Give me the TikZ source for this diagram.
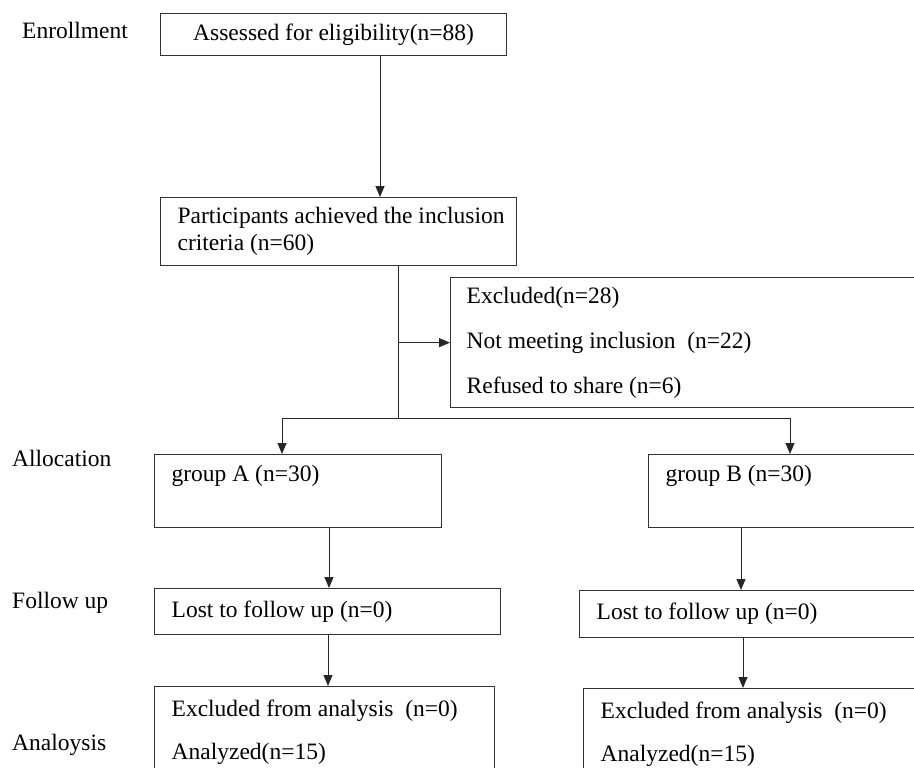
\documentclass[tikz,border=0pt]{standalone}
\usepackage{fontspec}
\setmainfont{Liberation Serif}
\usetikzlibrary{arrows.meta}

\newcommand{\flowfont}[1]{\fontsize{23.5}{#1}\selectfont}

\begin{document}
\begin{tikzpicture}[x=1pt, y=-1pt,
    every node/.style={font=\flowfont{27}},
    box/.style={draw=black!80, line width=1.3pt, anchor=north west, inner xsep=17pt, inner ysep=0pt, align=left,
        execute at begin node={\spaceskip=0.25em\xspaceskip=0.25em\relax}},
    stage/.style={anchor=base west, inner sep=0pt},
    arr/.style={-{Triangle[length=11pt,width=9pt]}, line width=1pt, black!85},
    link/.style={line width=1pt, black!85}]

    % Cadre de la figure
    \useasboundingbox (0,0) rectangle (914,768);
    \clip (0,0) rectangle (914,768);

    % Etapes
    \node[stage] (enr) at (22,39) {Enrollment};
    \node[stage] (alloc) at (12,466) {Allocation};
    \node[stage] (follow) at (12,608) {Follow up};
    \node[stage] (analy) at (12,750) {Analoysis};

    % Boites
    \node[box, align=center, text width=312pt, minimum height=42pt] (assess) at (160,13) {Assessed for eligibility(n=88)};
    \node[box, text width=322pt, minimum height=68pt] (incl) at (160,197) {\mbox{Participants achieved the inclusion}\\criteria (n=60)};
    \node[box, inner xsep=16pt, text width=448pt, minimum height=130pt, font=\flowfont{45}] (excl) at (450,277)
        {Excluded(n=28)\\Not meeting inclusion\ \ (n=22)\\Refused to share (n=6)};

    \node[box, text width=253pt, minimum height=73pt] (grpA) at (154,454) {group A (n=30)\\\strut};
    \node[box, text width=248pt, minimum height=73pt] (grpB) at (648,454) {group B (n=30)\\\strut};

    \node[box, text width=312pt, minimum height=46pt] (folA) at (154,588) {Lost to follow up (n=0)};
    \node[box, text width=317pt, minimum height=47pt] (folB) at (579,590) {Lost to follow up (n=0)};

    \node[box, text width=306pt, minimum height=91pt, font=\flowfont{43}] (anaA) at (154,686)
        {Excluded from analysis\ \ (n=0)\\Analyzed(n=15)};
    \node[box, text width=313pt, minimum height=91pt, font=\flowfont{43}] (anaB) at (583,688)
        {Excluded from analysis\ \ (n=0)\\Analyzed(n=15)};

    % Points de passage des fleches
    \coordinate (c0) at (380,0);
    \coordinate (split) at (398,418);
    \coordinate (toA) at (282,418);
    \coordinate (toB) at (790,418);
    \coordinate (cA1) at (329,0);
    \coordinate (cA2) at (328,0);
    \coordinate (cB1) at (741,0);
    \coordinate (cB2) at (743,0);

    % Fleches
    \draw[arr] (assess.south -| c0) -- (incl.north -| c0);
    \draw[link] (incl.south -| split) -- (split);
    \draw[arr] (excl.west -| split) -- (excl.west);
    \draw[link] (toA) -- (toB);
    \draw[arr] (toA) -- (toA |- grpA.north);
    \draw[arr] (toB) -- (toB |- grpB.north);

    \draw[arr] (grpA.south -| cA1) -- (folA.north -| cA1);
    \draw[arr] (folA.south -| cA2) -- (anaA.north -| cA2);
    \draw[arr] (grpB.south -| cB1) -- (folB.north -| cB1);
    \draw[arr] (folB.south -| cB2) -- (anaB.north -| cB2);

\end{tikzpicture}
\end{document}
